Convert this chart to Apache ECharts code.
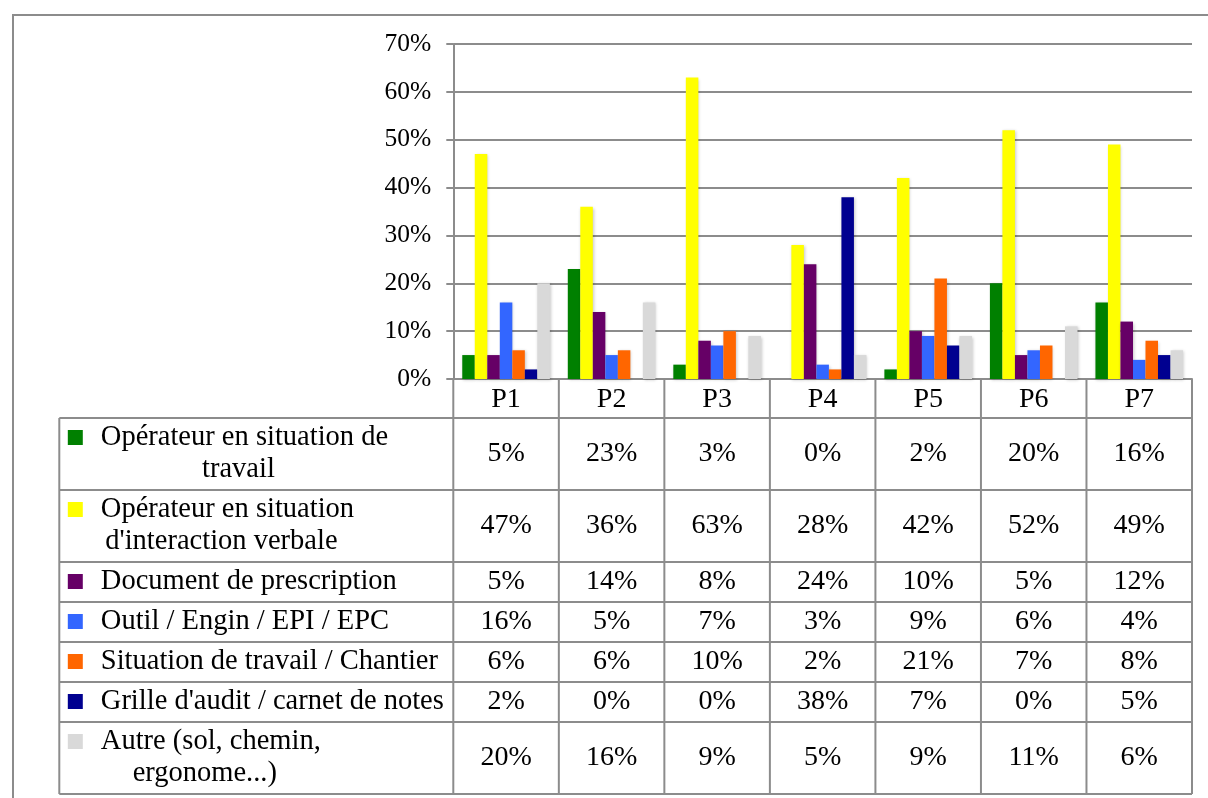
<!DOCTYPE html>
<html><head><meta charset="utf-8">
<script src="https://cdn.jsdelivr.net/npm/echarts@6/dist/echarts.min.js"></script>
<style>html,body{margin:0;padding:0;background:#fff}#c{width:1208px;height:798px}</style>
</head><body><div id="c"></div>
<script>
// ---- data ----
const categories = ['P1', 'P2', 'P3', 'P4', 'P5', 'P6', 'P7'];
const seriesLabels = [
  'Opérateur en situation de\ntravail',
  "Opérateur en situation\nd'interaction verbale",
  'Document de prescription',
  'Outil / Engin / EPI / EPC',
  'Situation de travail / Chantier',
  "Grille d'audit / carnet de notes",
  'Autre (sol, chemin,\nergonome...)'
];
const operateurTravail   = [5, 23, 3, 0, 2, 20, 16];
const operateurVerbal    = [47, 36, 63, 28, 42, 52, 49];
const documentPrescr     = [5, 14, 8, 24, 10, 5, 12];
const outilEngin         = [16, 5, 7, 3, 9, 6, 4];
const situationChantier  = [6, 6, 10, 2, 21, 7, 8];
const grilleAudit        = [2, 0, 0, 38, 7, 0, 5];
const autre              = [20, 16, 9, 5, 9, 11, 6];
const allValues = [operateurTravail, operateurVerbal, documentPrescr, outilEngin, situationChantier, grilleAudit, autre];
const yMin = 0, yMax = 70, yStep = 10;

// ---- styles / layout ----
const colors = ['#008000', '#FFFF00', '#660066', '#3366FF', '#FF6600', '#000090', '#D9D9D9'];
const FONT = '"Liberation Serif", "Times New Roman", serif';
const TABLE_FS = 28.5, VALUE_FS = 28, AXIS_FS = 25.5;
const LINE_COLOR = '#8c8c8c';
const LINE_H = 32, ROW_PAD = 8, HEADER_H = 39;
const LABEL_COL_W = 394, KEY_X = 8.5, KEY_TOP = 12, KEY_SIZE = 15, TEXT_X = 41.5;

const rowHeights = [HEADER_H].concat(seriesLabels.map(l => ROW_PAD + LINE_H * l.split('\n').length));
const rowOffsets = [];
rowHeights.reduce((acc, h) => { rowOffsets.push(acc); return acc + h; }, 0);

const mctx = document.createElement('canvas').getContext('2d');
mctx.font = TABLE_FS + 'px ' + FONT;

function txt(text, x, y, align, fs) {
  return { type: 'text', silent: true, style: { text: text, x: x, y: y, fill: '#000', fontSize: fs || TABLE_FS, fontFamily: FONT, align: align || 'center', verticalAlign: 'middle' } };
}

function renderTable(params, api) {
  const i = api.value(2);
  const c0 = api.coord([0, yMin]);
  const bw = api.size([1, 0])[0];
  const axisY = c0[1];
  const gridLeft = c0[0] - bw / 2;
  const gridRight = gridLeft + bw * categories.length;
  const labelLeft = gridLeft - LABEL_COL_W;
  const top = axisY + rowOffsets[i];
  const h = rowHeights[i];
  const ch = [];
  const ln = (x1, y1, x2, y2) => ch.push({ type: 'line', silent: true, shape: { x1, y1, x2, y2 }, style: { stroke: LINE_COLOR, lineWidth: 2 } });
  for (let k = 0; k <= categories.length; k++) {
    const x = gridLeft + bw * k;
    ln(x, top, x, top + h);
  }
  if (i === 0) {
    categories.forEach((c, k) => ch.push(txt(c, api.coord([k, yMin])[0], top + h / 2 + 1, 'center', VALUE_FS)));
  } else {
    const s = i - 1;
    ln(labelLeft, top, labelLeft, top + h);
    ln(labelLeft, top + h, gridRight, top + h);
    if (i === 1) ln(labelLeft, top, gridRight, top);
    ch.push({ type: 'rect', silent: true, shape: { x: labelLeft + KEY_X, y: top + KEY_TOP, width: KEY_SIZE, height: KEY_SIZE }, style: { fill: colors[s] } });
    const lines = seriesLabels[s].split('\n');
    const w1 = mctx.measureText(lines[0]).width;
    lines.forEach((l, k) => {
      const y = top + ROW_PAD / 2 + LINE_H * k + LINE_H / 2;
      if (k === 0) ch.push(txt(l, labelLeft + TEXT_X, y, 'left'));
      else ch.push(txt(l, labelLeft + TEXT_X + w1 / 2 - 6, y, 'center'));
    });
    allValues[s].forEach((v, k) => ch.push(txt(v + '%', api.coord([k, yMin])[0], top + h / 2, 'center', VALUE_FS)));
  }
  return { type: 'group', children: ch };
}

const chart = echarts.init(document.getElementById('c'), null, { renderer: 'canvas' });
const barSeries = allValues.map((vals, s) => ({
  type: 'bar',
  name: seriesLabels[s],
  data: vals,
  barGap: '0%',
  barCategoryGap: '17%',
  itemStyle: { color: colors[s], shadowBlur: 3, shadowColor: 'rgba(0,0,0,0.22)', shadowOffsetX: 1, shadowOffsetY: 1 },
  silent: true,
  z: 2
}));

chart.setOption({
  animation: false,
  backgroundColor: '#fff',
  graphic: [{ type: 'rect', silent: true, z: -10, shape: { x: 13, y: 15, width: 1400, height: 1000 }, style: { fill: 'none', stroke: LINE_COLOR, lineWidth: 2 } }],
  grid: { left: 453.3, top: 44, right: 16, bottom: 419, containLabel: false },
  xAxis: {
    type: 'category', data: categories,
    axisLine: { show: true, lineStyle: { color: LINE_COLOR, width: 2 } },
    axisTick: { show: false }, axisLabel: { show: false }
  },
  yAxis: {
    type: 'value', min: yMin, max: yMax, interval: yStep,
    axisLine: { show: true, lineStyle: { color: LINE_COLOR, width: 2 } },
    axisTick: { show: true, length: 7, lineStyle: { color: LINE_COLOR, width: 2 } },
    splitLine: { show: true, lineStyle: { color: LINE_COLOR, width: 2 } },
    axisLabel: { formatter: '{value}%', fontSize: AXIS_FS, fontFamily: FONT, color: '#000', margin: 22 }
  },
  series: barSeries.concat([{
    type: 'custom',
    renderItem: renderTable,
    data: rowHeights.map((h, i) => [0, 0, i]),
    encode: { x: 0, y: 1 },
    clip: false,
    silent: true,
    z: 5
  }])
});
</script></body></html>
